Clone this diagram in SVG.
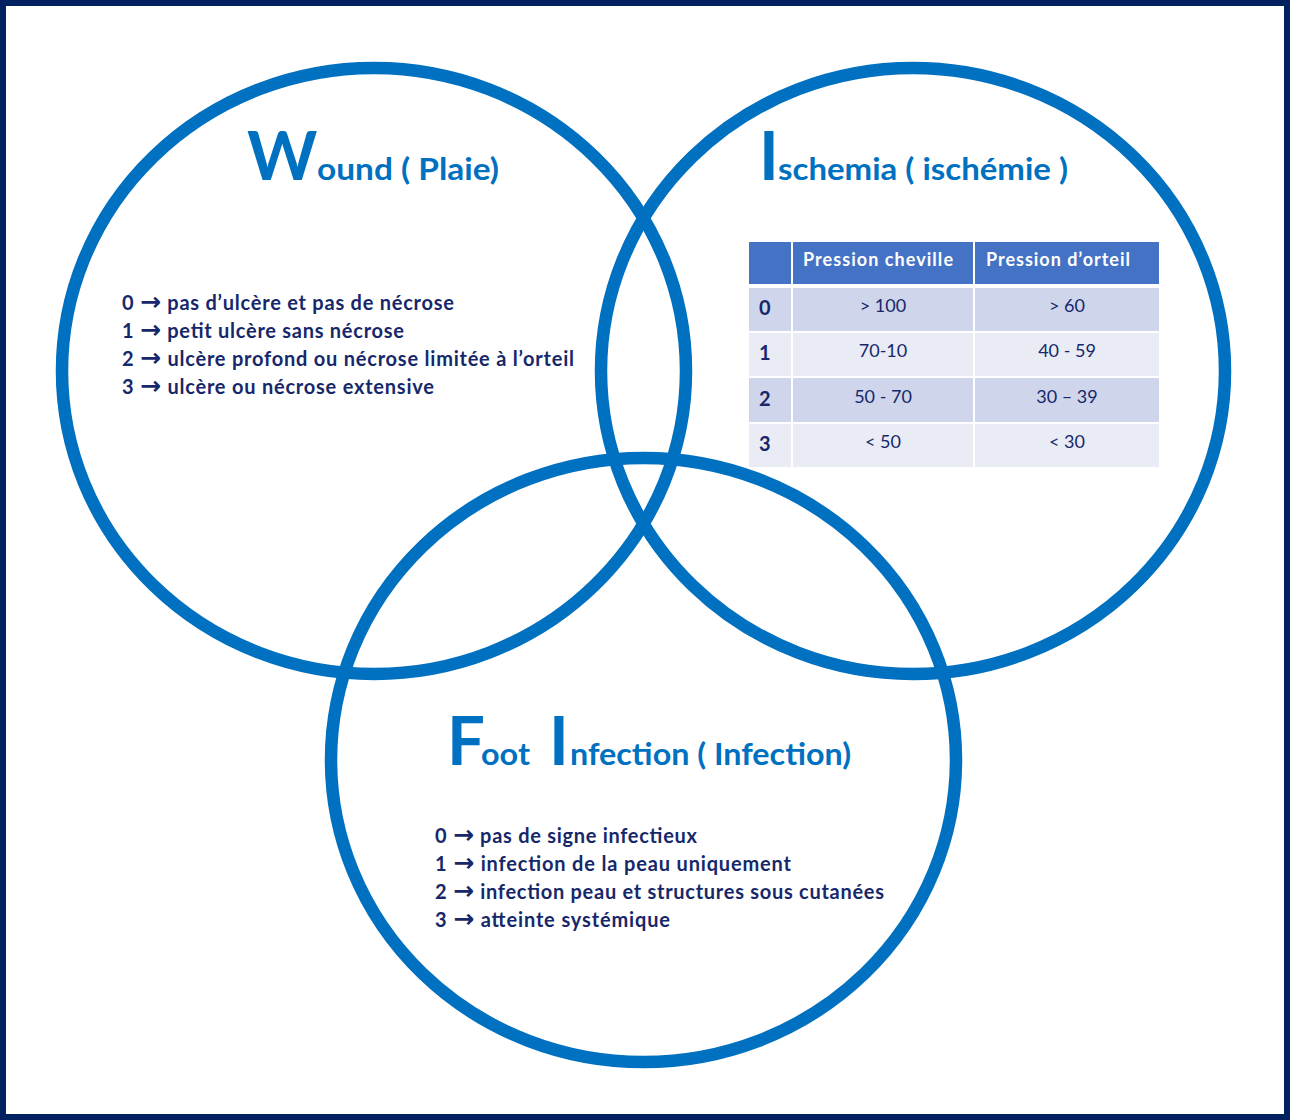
<svg xmlns="http://www.w3.org/2000/svg" width="1290" height="1120" viewBox="0 0 1290 1120">
<style>
.ring{fill:none;stroke:#0070C0;stroke-width:12.5}
.big{font-family:Lato,"Open Sans","Liberation Sans",sans-serif;font-weight:bold;fill:#0070C0;font-size:67px}
.ttl{font-family:Lato,"Open Sans","Liberation Sans",sans-serif;font-weight:bold;fill:#0070C0;font-size:30px}
.body{font-family:Lato,"Open Sans","Liberation Sans",sans-serif;font-weight:bold;fill:#16286A;font-size:20px}
.ar{font-family:"DejaVu Sans",sans-serif;font-weight:bold;font-size:25px}
.th{font-family:Lato,"Open Sans","Liberation Sans",sans-serif;font-weight:bold;fill:#FFFFFF;font-size:18px}
.td{font-family:Lato,"Open Sans","Liberation Sans",sans-serif;fill:#16286A;font-size:18px;text-anchor:middle}
.tn{font-family:Lato,"Open Sans","Liberation Sans",sans-serif;font-weight:bold;fill:#16286A;font-size:20px}
.hd{fill:#4472C4}
.ra{fill:#CFD5EA}
.rb{fill:#E9EBF5}
</style>
<rect x="0" y="0" width="1290" height="1120" fill="#FFFFFF"/>
<rect x="3" y="3" width="1284" height="1114" fill="none" stroke="#002060" stroke-width="6"/>

<g id="wound">
<ellipse class="ring" cx="374" cy="371" rx="312" ry="303"/>
<text class="big" x="247" y="180">W</text>
<text class="ttl" x="317" y="180" textLength="182" lengthAdjust="spacingAndGlyphs">ound ( Plaie)</text>
<text class="body" x="122" y="310" textLength="332">0 <tspan class="ar">→</tspan> pas d’ulcère et pas de nécrose</text>
<text class="body" x="122" y="338" textLength="282">1 <tspan class="ar">→</tspan> petit ulcère sans nécrose</text>
<text class="body" x="122" y="366" textLength="452">2 <tspan class="ar">→</tspan> ulcère profond ou nécrose limitée à l’orteil</text>
<text class="body" x="122" y="394" textLength="312">3 <tspan class="ar">→</tspan> ulcère ou nécrose extensive</text>
</g>

<g id="ischemia">
<ellipse class="ring" cx="913" cy="371" rx="312" ry="303"/>
<text class="big" x="759" y="180">I</text>
<text class="ttl" x="778" y="180" textLength="290" lengthAdjust="spacingAndGlyphs">schemia ( ischémie )</text>
<g id="table">
<rect class="hd" x="749" y="242" width="42" height="42"/>
<rect class="hd" x="793" y="242" width="180" height="42"/>
<rect class="hd" x="975" y="242" width="184" height="42"/>
<rect class="ra" x="749" y="288" width="42" height="43"/>
<rect class="ra" x="793" y="288" width="180" height="43"/>
<rect class="ra" x="975" y="288" width="184" height="43"/>
<rect class="rb" x="749" y="333" width="42" height="43"/>
<rect class="rb" x="793" y="333" width="180" height="43"/>
<rect class="rb" x="975" y="333" width="184" height="43"/>
<rect class="ra" x="749" y="378" width="42" height="44"/>
<rect class="ra" x="793" y="378" width="180" height="44"/>
<rect class="ra" x="975" y="378" width="184" height="44"/>
<rect class="rb" x="749" y="424" width="42" height="43"/>
<rect class="rb" x="793" y="424" width="180" height="43"/>
<rect class="rb" x="975" y="424" width="184" height="43"/>
<text class="th" x="803" y="266" textLength="150">Pression cheville</text>
<text class="th" x="986" y="266" textLength="144">Pression d’orteil</text>
<text class="tn" x="759" y="315">0</text>
<text class="tn" x="759" y="360">1</text>
<text class="tn" x="759" y="406">2</text>
<text class="tn" x="759" y="451">3</text>
<text class="td" x="883" y="312">&gt; 100</text>
<text class="td" x="1067" y="312">&gt; 60</text>
<text class="td" x="883" y="357">70-10</text>
<text class="td" x="1067" y="357">40 - 59</text>
<text class="td" x="883" y="403">50 - 70</text>
<text class="td" x="1067" y="403">30 – 39</text>
<text class="td" x="883" y="448">&lt; 50</text>
<text class="td" x="1067" y="448">&lt; 30</text>
</g>
</g>

<g id="infection">
<ellipse class="ring" cx="643.5" cy="760" rx="312.5" ry="302"/>
<text class="big" x="447" y="765">F</text>
<text class="ttl" x="481" y="765" textLength="49" lengthAdjust="spacingAndGlyphs">oot</text>
<text class="big" x="549" y="765">I</text>
<text class="ttl" x="570" y="765" textLength="281" lengthAdjust="spacingAndGlyphs">nfection ( Infection)</text>
<text class="body" x="435" y="843" textLength="262">0 <tspan class="ar">→</tspan> pas de signe infectieux</text>
<text class="body" x="435" y="871" textLength="356">1 <tspan class="ar">→</tspan> infection de la peau uniquement</text>
<text class="body" x="435" y="899" textLength="449">2 <tspan class="ar">→</tspan> infection peau et structures sous cutanées</text>
<text class="body" x="435" y="927" textLength="235">3 <tspan class="ar">→</tspan> atteinte systémique</text>
</g>
</svg>
